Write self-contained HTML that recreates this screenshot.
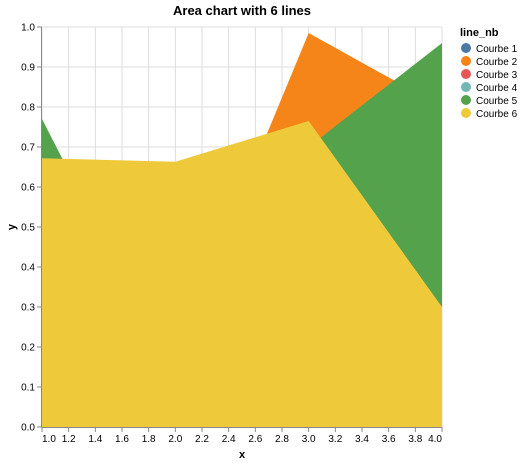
<!DOCTYPE html>
<html><head><meta charset="utf-8"><style>
body{margin:0;background:#fff;font-family:"Liberation Sans",Arial,sans-serif;}
svg text{font-family:"Liberation Sans",Arial,sans-serif;}
</style></head><body>
<svg id="chart" width="525" height="464">
<text x="242" y="15" text-anchor="middle" font-size="13" font-weight="bold" fill="#000">Area chart with 6 lines</text>
<g id="grid"></g>
<g id="areas"></g>
<g id="axes"></g>
<g id="legend"></g>
</svg>
<script>
const xs = [1, 2, 3, 4];
const series = ["Courbe 1","Courbe 2","Courbe 3","Courbe 4","Courbe 5","Courbe 6"];
const colors = ["#4c78a8","#f58518","#e45756","#72b7b2","#54a24b","#eeca3b"];
const courbe1 = [0.45, 0.30, 0.50, 0.55];
const courbe2 = [0.40, 0.18, 0.985, 0.80];
const courbe3 = [0.35, 0.40, 0.45, 0.60];
const courbe4 = [0.30, 0.25, 0.55, 0.70];
const courbe5 = [0.77, 0.12, 0.70, 0.96];
const courbe6 = [0.672, 0.663, 0.765, 0.30];
const xTicks = [1.0,1.2,1.4,1.6,1.8,2.0,2.2,2.4,2.6,2.8,3.0,3.2,3.4,3.6,3.8,4.0];
const yTicks = [0,0.1,0.2,0.3,0.4,0.5,0.6,0.7,0.8,0.9,1.0];
const allVals = [courbe1,courbe2,courbe3,courbe4,courbe5,courbe6];

const NS="http://www.w3.org/2000/svg";
const L=42,R=442,T=27,B=427;
const sx=v=>L+(v-1)/3*(R-L);
const sy=v=>B-v*(B-T);
function mk(tag,attrs,parent){const e=document.createElementNS(NS,tag);for(const k in attrs)e.setAttribute(k,attrs[k]);parent.appendChild(e);return e;}
const grid=document.getElementById('grid'),areas=document.getElementById('areas'),axes=document.getElementById('axes'),legend=document.getElementById('legend');
xTicks.forEach(t=>{const l=mk('line',{x1:sx(t),x2:sx(t),y1:T,y2:B,stroke:'#ddd'},grid);

});
yTicks.forEach(t=>{const l=mk('line',{x1:L,x2:R,y1:sy(t),y2:sy(t),stroke:'#ddd'},grid);

});
allVals.forEach((vals,i)=>{
 let d='M'+sx(xs[0])+','+sy(0);
 xs.forEach((x,j)=>{d+=' L'+sx(x)+','+sy(vals[j]);});
 d+=' L'+sx(xs[xs.length-1])+','+sy(0)+' Z';
 const p=mk('path',{d:d,fill:colors[i]},areas);
 
 
});
mk('line',{x1:L,x2:R,y1:B+0.5,y2:B+0.5,stroke:'#888'},axes);
mk('line',{x1:L-0.5,x2:L-0.5,y1:T,y2:B,stroke:'#888'},axes);
xTicks.forEach((t,i)=>{mk('line',{x1:sx(t),x2:sx(t),y1:B,y2:B+5,stroke:'#888'},axes);
 const anchor = i===0 ? 'start' : (i===xTicks.length-1 ? 'end' : 'middle');
 const tx=mk('text',{x:sx(t),y:B+15,'font-size':10,'text-anchor':anchor,fill:'#000'},axes);tx.textContent=t.toFixed(1);
 
 });
yTicks.forEach(t=>{mk('line',{x1:L-5,x2:L,y1:sy(t),y2:sy(t),stroke:'#888'},axes);
 const tx=mk('text',{x:L-7,y:sy(t)+3.5,'font-size':10,'text-anchor':'end',fill:'#000'},axes);tx.textContent=t.toFixed(1);
 
 });
const xt=mk('text',{x:242,y:458,'font-size':11,'font-weight':'bold','text-anchor':'middle'},axes);xt.textContent='x';


const yt=mk('text',{x:15,y:227,'font-size':11,'font-weight':'bold','text-anchor':'middle',transform:'rotate(-90 15 227)'},axes);yt.textContent='y';


const lt=mk('text',{x:460,y:36,'font-size':11,'font-weight':'bold'},legend);lt.textContent='line_nb';


series.forEach((s,i)=>{const g=mk('g',{},legend);
 
 
 mk('circle',{cx:466,cy:48+i*13,r:5,fill:colors[i]},g);
 const t=mk('text',{x:476,y:52+i*13,'font-size':10},g);t.textContent=s;});
</script>
</body></html>
